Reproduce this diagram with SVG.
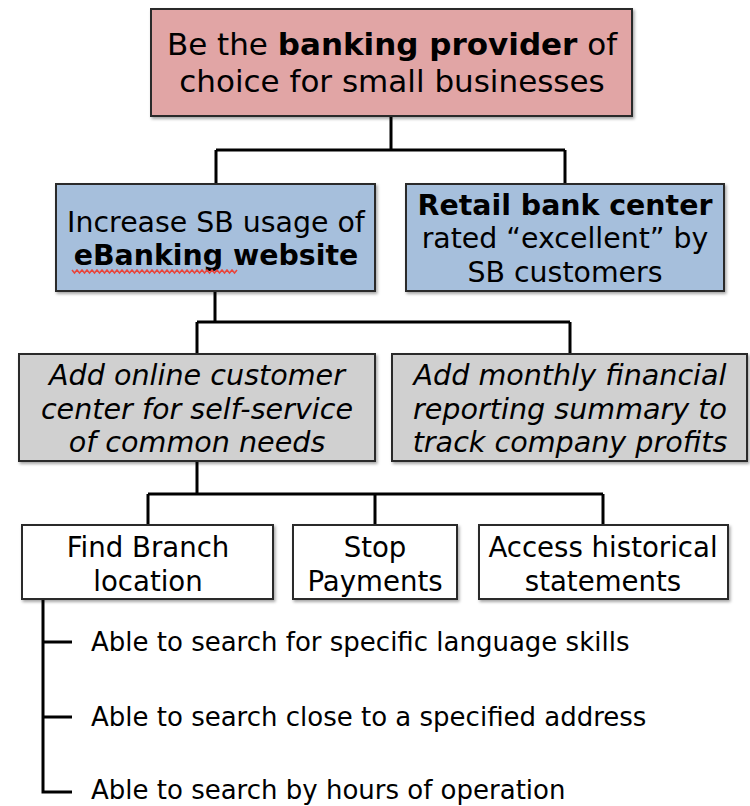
<svg xmlns="http://www.w3.org/2000/svg" width="750" height="806" viewBox="0 0 750 806">
<defs>
<filter id="sh" x="-5%" y="-5%" width="115%" height="120%">
<feDropShadow dx="1.5" dy="2" stdDeviation="1.5" flood-color="#000" flood-opacity="0.35"/>
</filter>
<style>
.box{stroke:#2a2a2a;stroke-width:2;filter:url(#sh)}
.red{fill:#e1a5a5}
.blue{fill:#a6bfdc}
.gray{fill:#d0d0d0}
.white{fill:#ffffff}
text{font-family:"DejaVu Sans","Liberation Sans",sans-serif;fill:#000;text-anchor:middle}
.t31{font-size:31px}
.t28{font-size:28.4px}
.it{font-size:28.6px;font-style:italic}
.t27{font-size:27.6px}
.t26{font-size:26px;text-anchor:start}
.b{font-weight:bold}
.conn{fill:none;stroke:#000;stroke-width:3}
</style>
</defs>
<rect width="750" height="806" fill="#fff"/>
<g id="connectors" class="conn">
<path d="M391 116V150M216 150H565M216 150V184M565 150V184"/>
<path d="M215 291V322M197 322H570M197 322V354M570 322V354"/>
<path d="M197 461V494M148 494H603M148 494V525M375 494V525M603 494V525"/>
<path d="M43 599V792H72M43 642H72M43 717H72"/>
</g>
<g id="goal">
<rect class="box red" x="151" y="9" width="481" height="107"/>
<text class="t31" x="392" y="55">Be the <tspan class="b">banking provider</tspan> of</text>
<text class="t31" x="392" y="92">choice for small businesses</text>
</g>
<g id="ebanking">
<rect class="box blue" x="56" y="184" width="319" height="107"/>
<text class="t28" x="216" y="232">Increase SB usage of</text>
<text class="t28 b" x="216" y="265">eBanking website</text>
<path d="M72 270l2.5 3l2.5-3l2.5 3l2.5-3l2.5 3l2.5-3l2.5 3l2.5-3l2.5 3l2.5-3l2.5 3l2.5-3l2.5 3l2.5-3l2.5 3l2.5-3l2.5 3l2.5-3l2.5 3l2.5-3l2.5 3l2.5-3l2.5 3l2.5-3l2.5 3l2.5-3l2.5 3l2.5-3l2.5 3l2.5-3l2.5 3l2.5-3l2.5 3l2.5-3l2.5 3l2.5-3l2.5 3l2.5-3l2.5 3l2.5-3l2.5 3l2.5-3l2.5 3l2.5-3l2.5 3l2.5-3l2.5 3l2.5-3l2.5 3l2.5-3l2.5 3l2.5-3l2.5 3l2.5-3l2.5 3l2.5-3l2.5 3l2.5-3l2.5 3l2.5-3l2.5 3l2.5-3l2.5 3l2.5-3l2.5 3l2.5-3" fill="none" stroke="#e8453c" stroke-width="1.5"/>
</g>
<g id="retail">
<rect class="box blue" x="406" y="184" width="318" height="107"/>
<text class="t28 b" x="565" y="215">Retail bank center</text>
<text class="t28" x="565" y="248">rated “excellent” by</text>
<text class="t28" x="565" y="282">SB customers</text>
</g>
<g id="online-center">
<rect class="box gray" x="19" y="354" width="356" height="107"/>
<text class="it" x="197" y="385">Add online customer</text>
<text class="it" x="197" y="419">center for self-service</text>
<text class="it" x="197" y="452">of common needs</text>
</g>
<g id="monthly-report">
<rect class="box gray" x="392" y="354" width="355" height="107"/>
<text class="it" x="570" y="385">Add monthly financial</text>
<text class="it" x="570" y="419">reporting summary to</text>
<text class="it" x="570" y="452">track company profits</text>
</g>
<g id="find-branch">
<rect class="box white" x="22" y="525" width="251" height="74"/>
<text class="t27" x="148" y="557">Find Branch</text>
<text class="t27" x="148" y="591">location</text>
</g>
<g id="stop-payments">
<rect class="box white" x="293" y="525" width="164" height="74"/>
<text class="t27" x="375" y="557">Stop</text>
<text class="t27" x="375" y="591">Payments</text>
</g>
<g id="historical">
<rect class="box white" x="479" y="525" width="249" height="74"/>
<text class="t27" x="603" y="557">Access historical</text>
<text class="t27" x="603" y="591">statements</text>
</g>
<g id="branch-features">
<text class="t26" x="91" y="651">Able to search for specific language skills</text>
<text class="t26" x="91" y="726">Able to search close to a specified address</text>
<text class="t26" x="91" y="799">Able to search by hours of operation</text>
</g>
</svg>
